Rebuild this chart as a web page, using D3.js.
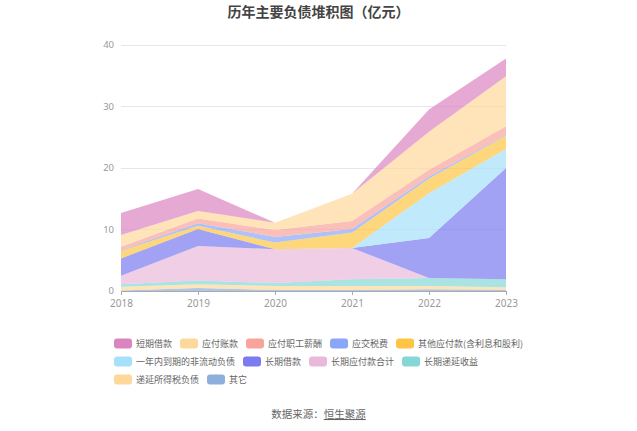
<!DOCTYPE html>
<html>
<head>
<meta charset="utf-8">
<script src="https://cdn.jsdelivr.net/npm/d3@7"></script>
<style>
  html, body { margin: 0; padding: 0; background: #fff; }
  svg { display: block; font-family: "Noto Sans CJK SC", "Noto Sans", sans-serif; }
</style>
</head>
<body>
<svg id="chart" width="637" height="431"></svg>
<script>
// ---- data (亿元) ----
const years = ['2018', '2019', '2020', '2021', '2022', '2023'];
const seriesNames = ['短期借款', '应付账款', '应付职工薪酬', '应交税费', '其他应付款(含利息和股利)',
  '一年内到期的非流动负债', '长期借款', '长期应付款合计', '长期递延收益', '递延所得税负债', '其它'];
const shortLoan        = [3.6, 3.6, 0.0, 0.0, 3.6, 2.9];
const accountsPayable  = [1.9, 1.2, 1.2, 4.4, 6.2, 8.1];
const payroll          = [0.55, 0.8, 1.1, 1.3, 1.1, 1.4];
const taxes            = [0.1, 0.4, 0.9, 0.6, 0.3, 0.1];
const otherPayables    = [1.25, 0.5, 1.1, 2.5, 2.4, 2.2];
const currentNoncurrent= [0.0, 0.0, 0.0, 0.0, 7.3, 3.1];
const longLoan         = [2.8, 2.8, 0.0, 0.0, 6.5, 18.1];
const longPayables     = [1.4, 5.6, 5.5, 5.1, 0.0, 0.0];
const deferredIncome   = [0.4, 0.6, 0.5, 1.1, 1.3, 1.3];
const deferredTax      = [0.6, 0.6, 0.65, 0.65, 0.5, 0.4];
const others           = [0.1, 0.5, 0.15, 0.15, 0.3, 0.2];
const yTicks = [0, 10, 20, 30, 40];

const seriesValues = [shortLoan, accountsPayable, payroll, taxes, otherPayables,
  currentNoncurrent, longLoan, longPayables, deferredIncome, deferredTax, others];
const colors = ['#da85c0', '#fdd89a', '#f9a49b', '#8aa6f8', '#fdc543',
  '#a6e0fb', '#7b7bef', '#eab9da', '#85d7d6', '#fdd89a', '#8eaedc'];

// ---- layout ----
const svg = d3.select('#chart');
const W = 637, H = 431;
const plot = { left: 121, right: 506, top: 45, bottom: 291 };

const x = d3.scalePoint().domain(years).range([plot.left, plot.right]);
const y = d3.scaleLinear().domain([0, 40]).range([plot.bottom, plot.top]);

// title
svg.append('text')
  .attr('x', W / 2).attr('y', 17)
  .attr('text-anchor', 'middle')
  .attr('font-size', 14).attr('font-weight', 'bold')
  .attr('fill', '#444')
  .text('历年主要负债堆积图（亿元）');

// grid lines
svg.append('g').selectAll('line')
  .data(yTicks.filter(d => d !== 0))
  .join('line')
  .attr('x1', plot.left).attr('x2', plot.right)
  .attr('y1', d => y(d)).attr('y2', d => y(d))
  .attr('stroke', '#e6e6f2').attr('stroke-width', 1)
  .attr('shape-rendering', 'crispEdges');

// y axis labels
const yAxis = d3.axisLeft(y).tickValues(yTicks).tickSize(0).tickPadding(7);
const gy = svg.append('g').attr('transform', `translate(${plot.left},0)`).call(yAxis);
gy.select('.domain').remove();
gy.selectAll('text').attr('fill', '#999').attr('font-size', 9.5)
  .attr('dy', '0.28em')
  .attr('font-family', '"Noto Sans", sans-serif');

// stacked data (bottom -> top is reverse of legend order)
const rows = years.map((yr, i) => {
  const o = { year: yr };
  seriesNames.forEach((n, k) => { o[n] = seriesValues[k][i]; });
  return o;
});
const stackKeys = seriesNames.slice().reverse();
const stacked = d3.stack().keys(stackKeys)(rows);
const colorOf = n => colors[seriesNames.indexOf(n)];

const area = d3.area()
  .x(d => x(d.data.year))
  .y0(d => y(d[0]))
  .y1(d => y(d[1]))
  .curve(d3.curveLinear);

svg.append('g').selectAll('path')
  .data(stacked)
  .join('path')
  .attr('d', area)
  .attr('fill', d => colorOf(d.key))
  .attr('fill-opacity', 0.7)
  .attr('stroke', 'none');

// x axis
const xAxis = d3.axisBottom(x).tickSize(4).tickPadding(5).tickSizeOuter(0);
const gx = svg.append('g').attr('transform', `translate(0,${plot.bottom})`).call(xAxis);
gx.select('.domain').attr('stroke', '#aaa').attr('d', `M${plot.left},0.5H${plot.right}`);
gx.selectAll('.tick line').attr('stroke', '#aaa');
gx.selectAll('text').attr('fill', '#999').attr('font-size', 10)
  .attr('font-family', '"Noto Sans", sans-serif');

// legend (flow layout)
const legend = svg.append('g');
const legStartX = 114, legMaxX = 532, rowH = 18, legY0 = 343.5;
const swW = 18, swH = 10, gapText = 4, gapItem = 8;
let cx = legStartX, cy = legY0;
seriesNames.forEach((n, k) => {
  const g = legend.append('g');
  const t = g.append('text')
    .attr('font-size', 9).attr('fill', '#666')
    .attr('dominant-baseline', 'central')
    .text(n);
  const tw = t.node().getComputedTextLength();
  const itemW = swW + gapText + tw;
  if (cx + itemW > legMaxX && cx > legStartX) { cx = legStartX; cy += rowH; }
  g.insert('rect', 'text')
    .attr('x', cx).attr('y', cy - swH / 2)
    .attr('width', swW).attr('height', swH)
    .attr('rx', 3).attr('ry', 3)
    .attr('fill', colors[k]);
  t.attr('x', cx + swW + gapText).attr('y', cy);
  cx += itemW + gapItem;
});

// source
const src = svg.append('text')
  .attr('x', W / 2).attr('y', 418)
  .attr('text-anchor', 'middle')
  .attr('font-size', 10.5).attr('fill', '#666');
src.append('tspan').text('数据来源：');
src.append('tspan').attr('text-decoration', 'underline').text('恒生聚源');
</script>
</body>
</html>
